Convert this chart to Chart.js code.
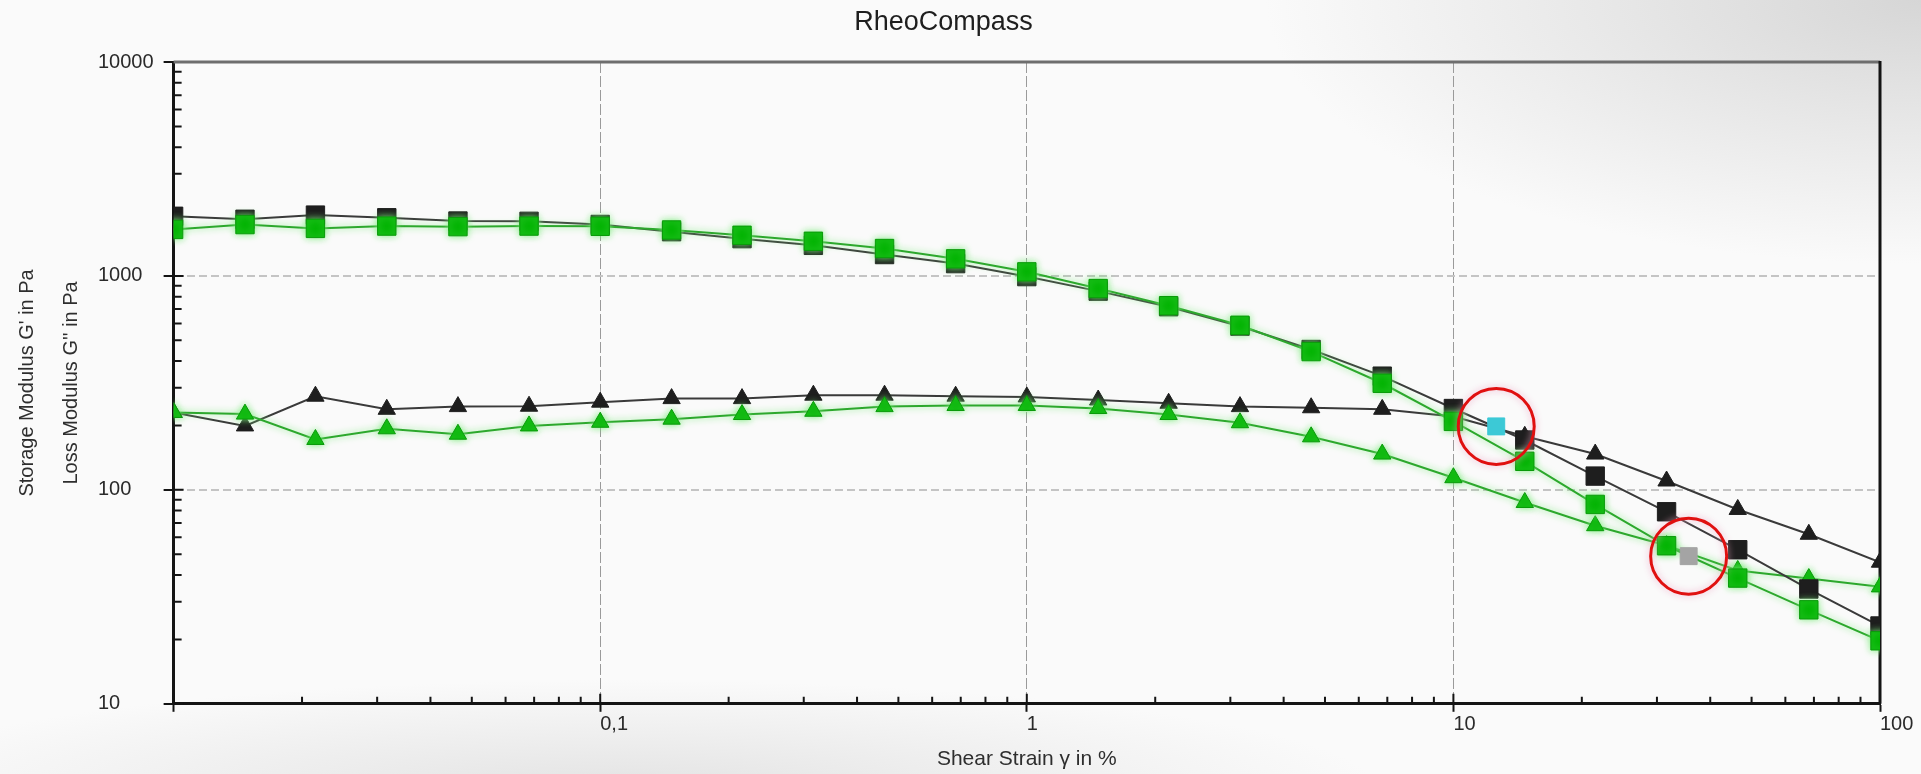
<!DOCTYPE html>
<html>
<head>
<meta charset="utf-8">
<title>RheoCompass</title>
<script src="https://cdn.jsdelivr.net/npm/chart.js@4/dist/chart.umd.min.js"></script>
<style>
    html, body {
        margin: 0;
        padding: 0;
        overflow: hidden;
    }
    body {
        width: 1921px;
        height: 774px;
        background:
            radial-gradient(ellipse 820px 330px at 1921px 0px, #d6d6d6 0%, #e6e6e6 35%, rgba(248,248,248,0) 80%),
            radial-gradient(ellipse 760px 110px at 620px 790px, #e3e3e3 0%, rgba(250,250,250,0) 100%),
            #fafafa;
    }
    .chart-box {
        position: relative;
        width: 1921px;
        height: 774px;
    }
</style>
</head>
<body>
<div class="chart-box">
    <canvas id="rheoChart"></canvas>
</div>
<script>
// Datos: barrido de amplitud (strain en %, módulos en Pa)
const strain = [0.01, 0.0147, 0.0215, 0.0316, 0.0464, 0.0681, 0.1, 0.147, 0.215, 0.316, 0.464, 0.681,
                1, 1.47, 2.15, 3.16, 4.64, 6.81, 10, 14.7, 21.5, 31.6, 46.4, 68.1, 100];

const storageBlack = [1900, 1840, 1925, 1870, 1805, 1800, 1740, 1610, 1494, 1390, 1259, 1142,
                      993, 849, 718, 582, 453, 340, 240, 171, 116, 79, 52.5, 34.4, 23.1];
const lossBlack = [230, 199, 274, 238, 245, 246, 257, 267, 267, 277, 277, 274,
                   272, 263, 254, 245, 242, 238, 220, 178, 147, 110, 81, 62, 45.9];

const storageGreen = [1650, 1738, 1668, 1710, 1700, 1710, 1706, 1640, 1549, 1452, 1343, 1202,
                      1045, 873, 726, 588, 443, 315, 209, 136, 85.5, 54.8, 38.7, 27.5, 19.7];
const lossGreen = [230, 226, 172, 193, 182, 199, 207, 214, 225, 233, 245, 248,
                   248, 240, 225, 206, 177, 147, 114, 87.3, 68, 55, 42, 38.5, 35.2];

// Puntos de cruce marcados
const crossStrain = [12.6, 35.6];
const crossModulus = [198, 49];
const crossColors = ['#3cc9d6', '#a4a4a4'];

// Etiquetas de los ejes
const xTickValues = [0.1, 1, 10, 100];
const xTickLabels = ['0,1', '1', '10', '100'];
const yTickValues = [10, 100, 1000, 10000];
const yTickLabels = ['10', '100', '1000', '10000'];

const toPoints = (xs, ys) => xs.map((x, i) => ({ x: x, y: ys[i] }));

// Ticks de décadas con subdivisiones 2..9
function decadeTicks(min, max) {
    const ticks = [];
    for (let e = Math.round(Math.log10(min)); e <= Math.round(Math.log10(max)); e++) {
        const base = Math.pow(10, e);
        ticks.push({ value: base, major: true });
        if (base >= max) break;
        for (let m = 2; m <= 9; m++) {
            ticks.push({ value: parseFloat((m * base).toPrecision(3)), major: false });
        }
    }
    return ticks;
}

function labelFor(values, labels) {
    return function(value) {
        const i = values.findIndex(v => Math.abs(v - value) / v < 1e-6);
        return i >= 0 ? labels[i] : '';
    };
}

Chart.defaults.font.family = '"Liberation Sans", Arial, sans-serif';
Chart.defaults.color = '#2a2a2a';

// Ticks interiores y marco superior/derecho
const framePlugin = {
    id: 'framePlugin',
    beforeDatasetsDraw(chart) {
        const { ctx, chartArea: a, scales } = chart;
        ctx.save();
        ctx.strokeStyle = '#141414';
        ctx.lineWidth = 2;
        ctx.beginPath();
        scales.x.ticks.forEach(t => {
            const px = scales.x.getPixelForValue(t.value);
            ctx.moveTo(px, a.bottom);
            ctx.lineTo(px, a.bottom - (t.major ? 10 : 7));
        });
        scales.y.ticks.forEach(t => {
            const py = scales.y.getPixelForValue(t.value);
            ctx.moveTo(a.left, py);
            ctx.lineTo(a.left + (t.major ? 10 : 8), py);
        });
        ctx.stroke();

        ctx.lineWidth = 3;
        ctx.strokeStyle = '#6e6e6e';
        ctx.beginPath();
        ctx.moveTo(a.left, a.top);
        ctx.lineTo(a.right, a.top);
        ctx.stroke();
        ctx.strokeStyle = '#141414';
        ctx.beginPath();
        ctx.moveTo(a.right, a.top - 1);
        ctx.lineTo(a.right, a.bottom);
        ctx.stroke();
        ctx.restore();
    }
};

// Halo claro alrededor de las curvas verdes y de los círculos
const haloPlugin = {
    id: 'haloPlugin',
    beforeDatasetDraw(chart, args) {
        const halo = args.meta._dataset.halo;
        if (!halo) return;
        chart.ctx.save();
        chart.ctx.shadowColor = halo;
        chart.ctx.shadowBlur = 7;
    },
    afterDatasetDraw(chart, args) {
        if (!args.meta._dataset.halo) return;
        chart.ctx.restore();
    }
};

const ctx = document.getElementById('rheoChart').getContext('2d');
const rheoChart = new Chart(ctx, {
    type: 'line',
    data: {
        datasets: [
            {
                label: 'Marcas',
                data: toPoints(crossStrain, crossModulus),
                showLine: false,
                pointStyle: 'circle',
                pointRadius: 38,
                pointBorderWidth: 3,
                pointBorderColor: '#e01010',
                pointBackgroundColor: 'rgba(0,0,0,0)',
                halo: 'rgba(240,170,200,0.9)',
                order: 0
            },
            {
                label: 'Cruce',
                data: toPoints(crossStrain, crossModulus),
                showLine: false,
                pointStyle: 'rect',
                pointRadius: 12,
                pointBorderWidth: 1,
                pointBackgroundColor: crossColors,
                pointBorderColor: crossColors,
                order: 1
            },
            {
                label: "G' verde",
                data: toPoints(strain, storageGreen),
                borderColor: '#2da82d',
                borderWidth: 2,
                pointStyle: 'rect',
                pointRadius: 13,
                pointBorderWidth: 1,
                pointBackgroundColor: '#04b404',
                pointBorderColor: '#0a9a0a',
                halo: 'rgba(120,235,120,0.95)',
                clip: 0,
                order: 2
            },
            {
                label: "G' negro",
                data: toPoints(strain, storageBlack),
                borderColor: '#3a3a3a',
                borderWidth: 2,
                pointStyle: 'rect',
                pointRadius: 13,
                pointBorderWidth: 1,
                pointBackgroundColor: '#1e1e1e',
                pointBorderColor: '#1e1e1e',
                clip: 0,
                order: 3
            },
            {
                label: "G'' verde",
                data: toPoints(strain, lossGreen),
                borderColor: '#2da82d',
                borderWidth: 2,
                pointStyle: 'triangle',
                pointRadius: 10,
                pointBorderWidth: 1,
                pointBackgroundColor: '#04b404',
                pointBorderColor: '#0a9a0a',
                halo: 'rgba(120,235,120,0.95)',
                clip: 0,
                order: 4
            },
            {
                label: "G'' negro",
                data: toPoints(strain, lossBlack),
                borderColor: '#3a3a3a',
                borderWidth: 2,
                pointStyle: 'triangle',
                pointRadius: 10,
                pointBorderWidth: 1,
                pointBackgroundColor: '#1e1e1e',
                pointBorderColor: '#1e1e1e',
                clip: 0,
                order: 5
            }
        ]
    },
    options: {
        responsive: true,
        maintainAspectRatio: false,
        animation: false,
        layout: {
            padding: { left: 0, right: 34, top: 0, bottom: 0 }
        },
        elements: {
            line: { tension: 0 }
        },
        scales: {
            x: {
                type: 'logarithmic',
                position: 'bottom',
                min: 0.01,
                max: 100,
                afterBuildTicks: scale => { scale.ticks = decadeTicks(0.01, 100); },
                ticks: {
                    autoSkip: false,
                    maxRotation: 0,
                    align: 'start',
                    padding: 1,
                    font: { size: 20 },
                    color: '#2a2a2a',
                    callback: labelFor(xTickValues, xTickLabels)
                },
                grid: {
                    color: c => c.tick && c.tick.major ? '#9a9a9a' : 'rgba(0,0,0,0)',
                    lineWidth: 1,
                    drawTicks: true,
                    tickLength: 8,
                    tickWidth: 2,
                    tickColor: c => c.tick && c.tick.major ? '#141414' : 'rgba(0,0,0,0)',
                    tickBorderDash: []
                },
                border: {
                    display: true,
                    color: '#141414',
                    width: 3,
                    dash: [11, 3]
                },
                title: {
                    display: true,
                    text: 'Shear Strain γ in %',
                    font: { size: 21 },
                    color: '#2e2e2e',
                    padding: { top: 9, bottom: 2 }
                }
            },
            y: {
                type: 'logarithmic',
                position: 'left',
                weight: 0,
                min: 10,
                max: 10000,
                afterBuildTicks: scale => { scale.ticks = decadeTicks(10, 10000); },
                ticks: {
                    autoSkip: false,
                    crossAlign: 'far',
                    padding: 5,
                    font: { size: 20 },
                    color: '#2a2a2a',
                    callback: labelFor(yTickValues, yTickLabels)
                },
                grid: {
                    color: c => c.tick && c.tick.major ? '#c4c4c4' : 'rgba(0,0,0,0)',
                    lineWidth: 2,
                    drawTicks: true,
                    tickLength: 10,
                    tickWidth: 2,
                    tickColor: c => c.tick && c.tick.major ? '#141414' : 'rgba(0,0,0,0)',
                    tickBorderDash: []
                },
                border: {
                    display: true,
                    color: '#141414',
                    width: 3,
                    dash: [8, 4]
                }
            },
            yTitle: {
                type: 'linear',
                position: 'left',
                weight: 10,
                ticks: { display: false },
                grid: { display: false, drawTicks: false },
                border: { display: false },
                title: {
                    display: true,
                    text: ["Storage Modulus G' in Pa", "Loss Modulus G'' in Pa"],
                    font: { size: 20, lineHeight: 2.2 },
                    color: '#2e2e2e',
                    padding: { top: 5, bottom: 5 }
                }
            }
        },
        plugins: {
            legend: { display: false },
            tooltip: { enabled: false },
            title: {
                display: true,
                text: 'RheoCompass',
                font: { size: 27, weight: 'normal' },
                color: '#1e1e1e',
                padding: { top: 6, bottom: 23.6 }
            }
        }
    },
    plugins: [framePlugin, haloPlugin]
});
</script>
</body>
</html>
